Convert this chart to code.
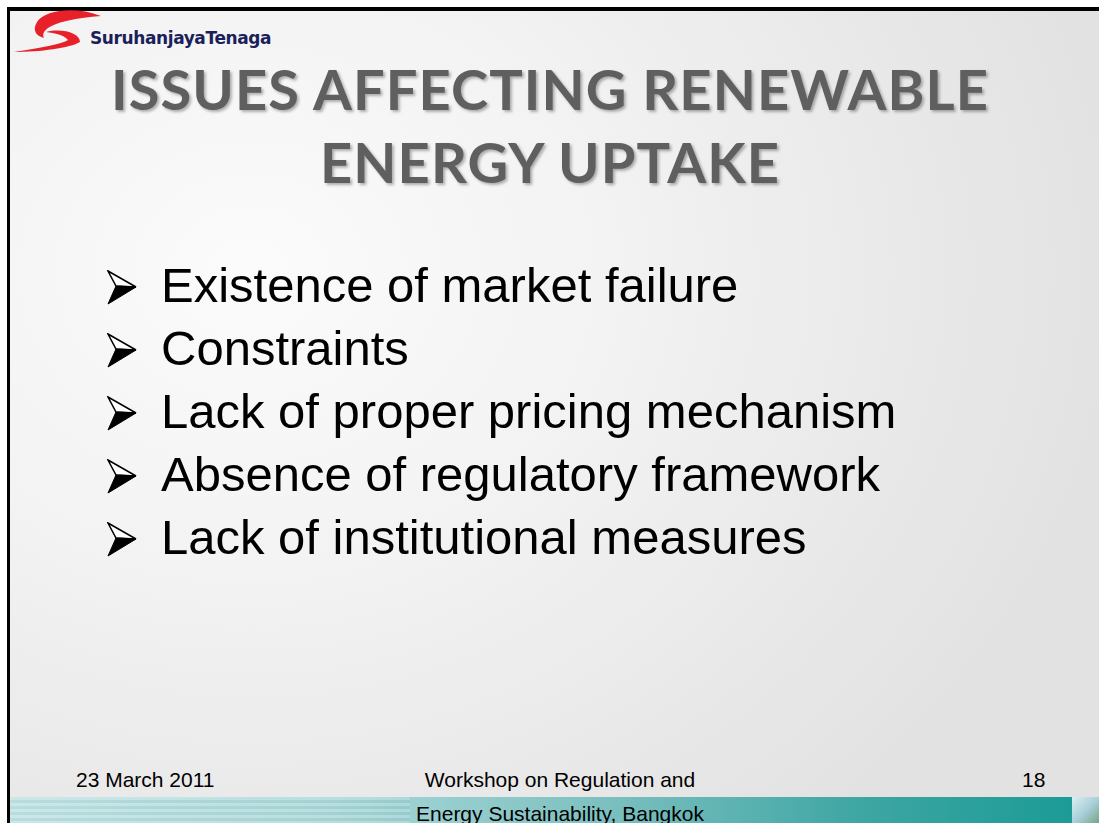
<!DOCTYPE html>
<html>
<head>
<meta charset="utf-8">
<script src="https://cdn.jsdelivr.net/npm/chart.js@4"></script>
<style>
  html, body { margin: 0; padding: 0; background: #fff; }
  body { width: 1099px; height: 823px; position: relative; overflow: hidden; }
  #slide {
    position: absolute; left: 7px; top: 7px; width: 1092px; height: 816px;
    border-left: 3px solid #000; border-top: 4px solid #000; box-sizing: border-box;
    background: radial-gradient(ellipse 80% 90% at 22% 32%, #fbfbfb 0%, #f3f3f3 40%, #e2e2e2 100%);
  }
  #logo { position: absolute; left: -10px; top: -11px; }
  #logo-text { position: absolute; left: 80px; top: 17px; font: bold 17px "DejaVu Sans", sans-serif; color: #1b1f5c; letter-spacing: -0.4px; }
  #title {
    position: absolute; left: 0; width: 1080px; top: 41px; text-align: center;
    font: bold 56px Lato, sans-serif; line-height: 73px; color: #5f5f5f;
    text-shadow: 2px 2px 3px rgba(0,0,0,0.3); letter-spacing: 1.1px;
  }
  #bullets { position: absolute; left: 97px; top: 243px; margin: 0; padding: 0; list-style: none; }
  #bullets li { position: relative; font: 49px "Liberation Sans", Arial, sans-serif; color: #000; height: 63px; line-height: 63px; white-space: nowrap; padding-left: 54px; }
  #bullets li svg { position: absolute; left: 0; top: 16px; }
  #band {
    position: absolute; left: 0; top: 786px; width: 1062px; height: 26px;
    background: linear-gradient(90deg, #bfe3e4 0%, #a9d8d9 30%, #7fc1c1 55%, #3ea6a3 80%, #1c9b96 100%);
  }
  #band::before { content: ""; position: absolute; left: 0; top: 0; width: 400px; height: 26px;
    background: repeating-linear-gradient(180deg, rgba(255,255,255,0.18) 0 3px, rgba(0,0,0,0.03) 3px 6px); }
  #thumb { position: absolute; left: 1062px; top: 786px; width: 30px; height: 26px;
    background: linear-gradient(135deg, #dbeef2 0%, #a9cfd9 50%, #6f9f7c 100%); }
  .foot { position: absolute; font: 21px "Liberation Sans", Arial, sans-serif; color: #000; line-height: 34px; z-index: 2; }
  #date { left: 66px; top: 752px; }
  #event { left: 345px; width: 410px; top: 752px; text-align: center; }
  #page { left: 1012px; top: 752px; }
</style>
</head>
<body>
<div id="slide">
  <svg id="logo" width="110" height="60" viewBox="0 0 110 60">
    <path d="M101 16 C 75 6, 45 10, 37 22 C 32 30, 36 36, 44 38 C 40 30, 52 20, 101 16 Z" fill="#e8202a"/>
    <path d="M46 32 C 62 28, 80 33, 80 42 C 70 48, 40 52, 14 52 C 40 48, 62 44, 68 40 C 64 35, 55 33, 46 32 Z" fill="#e8202a"/>
  </svg>
  <div id="logo-text"></div>
  <div id="title"></div>
  <ul id="bullets"></ul>
  <div id="band"></div>
  <div id="thumb"></div>
  <div id="date" class="foot"></div>
  <div id="event" class="foot"></div>
  <div id="page" class="foot"></div>
</div>
<script>
// Slide content
const orgName = 'SuruhanjayaTenaga';
const titleLines = ['ISSUES AFFECTING RENEWABLE', 'ENERGY UPTAKE'];
const bulletItems = [
  'Existence of market failure',
  'Constraints',
  'Lack of proper pricing mechanism',
  'Absence of regulatory framework',
  'Lack of institutional measures'
];
const footerDate = '23 March 2011';
const footerEvent = ['Workshop on Regulation and', 'Energy Sustainability, Bangkok'];
const footerPage = '18';

// arrowhead bullet (outlined top half, solid lower half)
const arrow = `<svg width="30" height="35" viewBox="0 0 30 35">
  <polygon points="1,1 29,17 9,16" fill="#fff" stroke="#000" stroke-width="1.5" stroke-linejoin="miter"/>
  <polygon points="9,16 29,17 1,34" fill="#000" stroke="#000" stroke-width="1"/>
</svg>`;

document.getElementById('logo-text').textContent = orgName;
document.getElementById('title').innerHTML = titleLines.join('<br>');

const ul = document.getElementById('bullets');
bulletItems.forEach(txt => {
  const li = document.createElement('li');
  li.innerHTML = arrow + txt;
  ul.appendChild(li);
});

document.getElementById('date').textContent = footerDate;
document.getElementById('event').innerHTML = footerEvent.join('<br>');
document.getElementById('page').textContent = footerPage;
</script>
</body>
</html>
